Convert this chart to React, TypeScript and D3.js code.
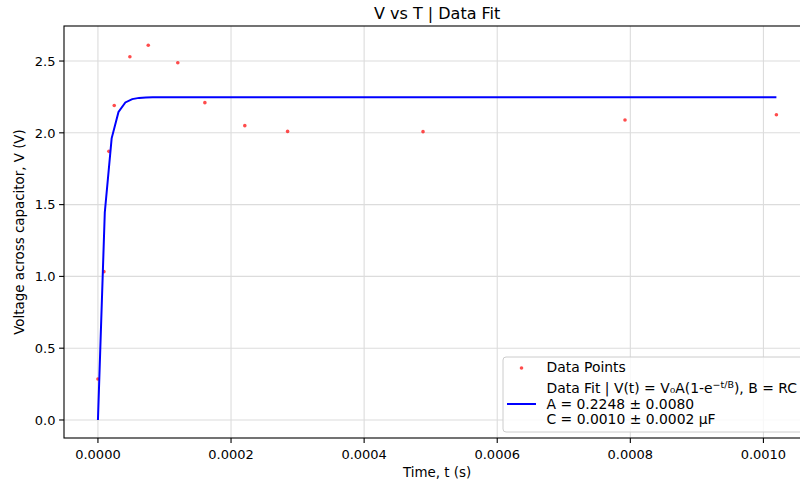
import React from "react";
import * as d3 from "d3";

// Measured data points (time in s, voltage in V)
const timeData = [0, 9e-6, 1.65e-5, 2.45e-5, 4.8e-5, 7.56e-5, 1.2e-4, 1.607e-4, 2.207e-4, 2.85e-4, 4.885e-4, 7.92e-4, 1.0195e-3];
const voltData = [0.285, 1.033, 1.871, 2.19, 2.53, 2.61, 2.488, 2.21, 2.05, 2.01, 2.008, 2.089, 2.126];

// Fit parameters: V(t) = V0*A*(1 - exp(-t/B))
const V0 = 10;
const fitA = 0.2248;
const fitB = 1.0e-5;
const fitSamples = 100;

const xTicks = [0, 0.0002, 0.0004, 0.0006, 0.0008, 0.001];
const yTicks = [0, 0.5, 1.0, 1.5, 2.0, 2.5];

const W = 800;
const H = 485;
const L = 64, R = 810.4, T = 26, B = 438;
const FONT = "DejaVu Sans, sans-serif";

export default function App() {
  React.useEffect(() => {
    document.body.style.margin = "0";
  }, []);

  const x = d3.scaleLinear().domain([-5.1e-5, 1.0706e-3]).range([L, R]);
  const y = d3.scaleLinear().domain([-0.1255, 2.744]).range([B, T]);

  const tMax = timeData[timeData.length - 1];
  const fitT = d3.range(fitSamples).map((i) => (tMax * i) / (fitSamples - 1));
  const fitPts: [number, number][] = fitT.map((t) => [t, V0 * fitA * (1 - Math.exp(-t / fitB))]);
  const line = d3
    .line<[number, number]>()
    .x((d) => x(d[0]))
    .y((d) => y(d[1]));

  const lx = 503, ly = 357;
  const LF = 13.9;

  return (
    <svg width={W} height={H} style={{ position: "absolute", left: 0, top: 0, background: "white" }} fontFamily={FONT}>
      <rect x={0} y={0} width={W} height={H} fill="white" />
      <defs>
        <clipPath id="plot">
          <rect x={L} y={T} width={R - L} height={B - T} />
        </clipPath>
      </defs>
      {/* grid */}
      {xTicks.map((t) => (
        <line key={"gx" + t} x1={x(t)} x2={x(t)} y1={T} y2={B} stroke="#dcdcdc" strokeWidth={1.1} />
      ))}
      {yTicks.map((t) => (
        <line key={"gy" + t} x1={L} x2={R} y1={y(t)} y2={y(t)} stroke="#dcdcdc" strokeWidth={1.1} />
      ))}
      <g clipPath="url(#plot)">
        {timeData.map((t, i) => (
          <circle key={"p" + i} cx={x(t)} cy={y(voltData[i])} r={1.8} fill="#ff0000" fillOpacity={0.7} />
        ))}
        <path d={line(fitPts) || ""} fill="none" stroke="#0000ff" strokeWidth={2} />
      </g>
      {/* spines */}
      <rect x={L} y={T} width={R - L} height={B - T} fill="none" stroke="black" strokeWidth={1.1} />
      {/* x ticks */}
      {xTicks.map((t) => (
        <g key={"xt" + t}>
          <line x1={x(t)} x2={x(t)} y1={B} y2={B + 4.9} stroke="black" strokeWidth={1.1} />
          <text x={x(t)} y={458.5} textAnchor="middle" fontSize={13} fill="black">
            {t.toFixed(4)}
          </text>
        </g>
      ))}
      {/* y ticks */}
      {yTicks.map((t) => (
        <g key={"yt" + t}>
          <line x1={L - 4.9} x2={L} y1={y(t)} y2={y(t)} stroke="black" strokeWidth={1.1} />
          <text x={55.5} y={y(t) + 4.7} textAnchor="end" fontSize={13} fill="black">
            {t.toFixed(1)}
          </text>
        </g>
      ))}
      {/* labels */}
      <text x={(L + R) / 2} y={19} textAnchor="middle" fontSize={16} fill="black">
        V vs T | Data Fit
      </text>
      <text x={(L + R) / 2} y={477} textAnchor="middle" fontSize={13.4} fill="black">
        Time, t (s)
      </text>
      <text transform={`translate(24,${(T + B) / 2}) rotate(-90)`} textAnchor="middle" fontSize={13.4} fill="black">
        Voltage across capacitor, V (V)
      </text>
      {/* legend */}
      <rect x={lx} y={ly} width={330} height={75} rx={3} fill="white" fillOpacity={0.8} stroke="#cccccc" strokeWidth={1} />
      <circle cx={521.5} cy={368} r={1.8} fill="#ff0000" fillOpacity={0.7} />
      <text x={546.5} y={372} fontSize={LF} fill="black">Data Points</text>
      <line x1={507} x2={536} y1={404} y2={404} stroke="#0000ff" strokeWidth={2} />
      <text x={546.5} y={393} fontSize={LF} fill="black">
        Data Fit | V(t) = V₀A(1-e
        <tspan fontSize={9.5} dy={-5}>−t/B</tspan>
        <tspan dy={5}>), B = RC</tspan>
      </text>
      <text x={546.5} y={408.5} fontSize={LF} fill="black">A = 0.2248 ± 0.0080</text>
      <text x={546.5} y={424} fontSize={LF} fill="black">C = 0.0010 ± 0.0002 μF</text>
    </svg>
  );
}
